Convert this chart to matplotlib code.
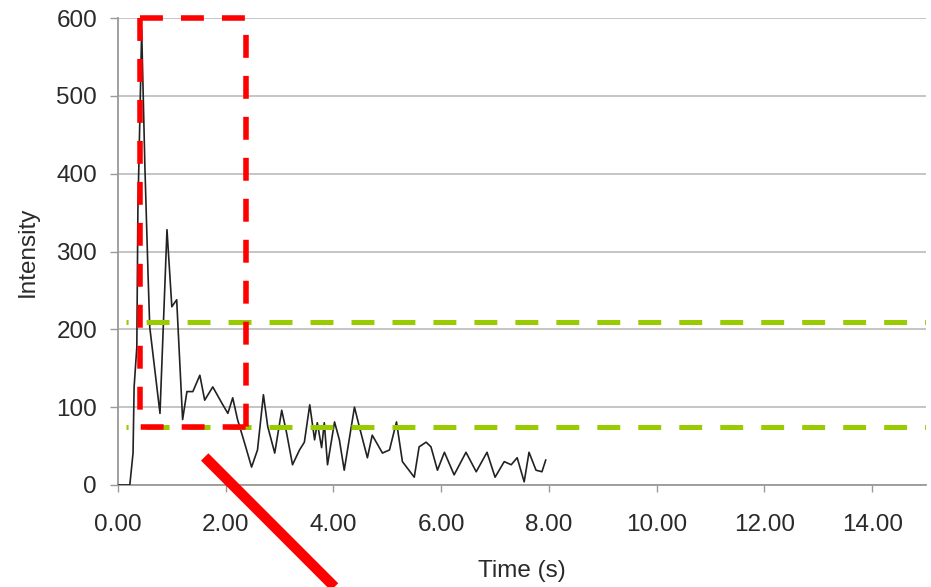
import matplotlib.pyplot as plt
from matplotlib.ticker import FormatStrFormatter

plt.rcParams['font.family'] = ['Liberation Sans', 'DejaVu Sans']
plt.rcParams['lines.scale_dashes'] = False

# intensity trace
time_s = [0.00, 0.22, 0.28, 0.30, 0.35, 0.37, 0.41, 0.44, 0.50, 0.56, 0.59,
          0.78, 0.91, 1.00, 1.09, 1.20, 1.28, 1.39, 1.52, 1.61, 1.76, 1.93,
          2.04, 2.13, 2.22, 2.35, 2.48, 2.59, 2.70, 2.78, 2.91, 3.04, 3.13,
          3.24, 3.37, 3.46, 3.56, 3.65, 3.70, 3.78, 3.83, 3.89, 4.02, 4.11,
          4.20, 4.39, 4.48, 4.63, 4.72, 4.91, 5.04, 5.17, 5.28, 5.50, 5.59,
          5.72, 5.81, 5.93, 6.06, 6.24, 6.46, 6.65, 6.85, 7.00, 7.17, 7.30,
          7.41, 7.54, 7.63, 7.76, 7.87, 7.94]
intensity = [0, 0, 41, 126, 177, 353, 482, 585, 409, 267, 203,
             92, 328, 229, 238, 84, 120, 120, 141, 109, 126, 105,
             92, 112, 84, 54, 23, 45, 116, 75, 41, 96, 67,
             26, 45, 55, 103, 58, 80, 48, 80, 26, 81, 58,
             19, 100, 75, 35, 64, 41, 45, 81, 30, 10, 49,
             55, 49, 19, 42, 13, 42, 17, 42, 10, 30, 26,
             35, 4, 42, 19, 17, 32]

# threshold levels
threshold_start = 0.15
upper_level = 210
lower_level = 75

# highlighted window and pointer
window_t = [0.41, 2.37]
window_top = 600
pointer_t = [1.61, 4.02]
pointer_y = [36, -131]

x_ticks = [0, 2, 4, 6, 8, 10, 12, 14]
y_ticks = [0, 100, 200, 300, 400, 500, 600]

text_color = '#2a2a2a'
axis_color = '#999999'
green = '#99cc00'
red = '#ff0000'

fig = plt.figure(figsize=(9.31, 5.87), dpi=100)
ax = fig.add_axes([0.1267, 0.1738, 0.868, 0.7955])

ax.set_xlim(0, 15)
ax.set_ylim(0, 600)
ax.set_xticks(x_ticks)
ax.set_yticks(y_ticks)
ax.xaxis.set_major_formatter(FormatStrFormatter('%.2f'))
ax.yaxis.grid(True, color='#b5b5b5', linewidth=1.1)
ax.set_axisbelow(True)

for side in ['top', 'right']:
    ax.spines[side].set_visible(False)
for side in ['left', 'bottom']:
    ax.spines[side].set_color(axis_color)
    ax.spines[side].set_linewidth(1.3)

ax.tick_params(axis='x', length=5, width=1, color=axis_color, pad=16,
               labelsize=17.5, labelcolor=text_color)
ax.tick_params(axis='y', length=6, width=1, color=axis_color, pad=9,
               labelsize=17.5, labelcolor=text_color)

ax.set_xlabel('Time (s)', fontsize=17.5, color=text_color, labelpad=17)
ax.set_ylabel('Intensity', fontsize=17.5, color=text_color, labelpad=13)

ax.plot(time_s, intensity, color='#222222', linewidth=1.2, zorder=3)

dash = (15.0, (16.5, 13.0))
for level in [upper_level, lower_level]:
    ax.plot([threshold_start, 15], [level, level], color=green, linewidth=3.6,
            linestyle=dash, solid_capstyle='butt', dash_capstyle='butt', zorder=4)

# dashed window drawn as two runs from the top-left corner
box_dash = (0, (16.5, 13.0))
x0, x1 = window_t
ax.plot([x0, x1, x1], [window_top, window_top, lower_level], color=red,
        linewidth=4.0, linestyle=box_dash, dash_capstyle='butt',
        clip_on=False, zorder=5)
ax.plot([x0, x0, x1], [window_top, lower_level, lower_level], color=red,
        linewidth=4.0, linestyle=box_dash, dash_capstyle='butt',
        clip_on=False, zorder=5)

ax.plot(pointer_t, pointer_y, color=red, linewidth=7.5,
        solid_capstyle='butt', clip_on=False, zorder=6)

fig.savefig('out.png', dpi=100)
